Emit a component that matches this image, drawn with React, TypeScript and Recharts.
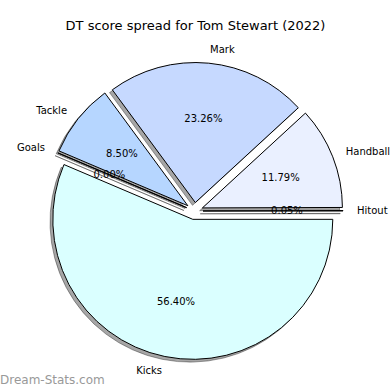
import React from "react";
import { PieChart, Pie, Cell } from "recharts";

// slices in drawing order (counter-clockwise from 3 o'clock)
const categories = ["Hitout", "Handball", "Mark", "Tackle", "Goals", "Kicks"];
const shares = [0.05, 11.79, 23.26, 8.5, 0.004, 56.4];
const colors = ["#F0F4FF", "#EAF0FF", "#C6D9FF", "#B6D6FF", "#B0E0FF", "#DAFFFF"];

const data = categories.map((name, i) => ({ name, value: shares[i] }));
const total = shares.reduce((a, b) => a + b, 0);

const CX = 194.5;
const CY = 211;
const R = 140;
const EXPLODE = 8.5;
const RADIAN = Math.PI / 180;
const FONT = "DejaVu Sans, sans-serif";

// mid angle of each slice, used only to push slices outward
const midAngles: number[] = [];
{
  let acc = 0;
  shares.forEach((v) => {
    const span = (v / total) * 360;
    midAngles.push(acc + span / 2);
    acc += span;
  });
}

const offset = (i: number) => ({
  dx: EXPLODE * Math.cos(midAngles[i] * RADIAN),
  dy: -EXPLODE * Math.sin(midAngles[i] * RADIAN),
});

const renderLabel = (props: any) => {
  const { midAngle, index } = props;
  const cos = Math.cos(midAngle * RADIAN);
  const sin = Math.sin(midAngle * RADIAN);
  const ox = CX + EXPLODE * cos;
  const oy = CY - EXPLODE * sin;
  const lx = ox + 1.1 * R * cos;
  const ly = oy - 1.1 * R * sin;
  const px = ox + 0.6 * R * cos;
  const py = oy - 0.6 * R * sin;
  const pct = ((shares[index] / total) * 100).toFixed(2) + "%";
  return (
    <g key={"lbl" + index}>
      <text
        x={lx}
        y={ly}
        textAnchor={cos >= 0 ? "start" : "end"}
        dominantBaseline="central"
        fontFamily={FONT}
        fontSize={10}
        fill="#000"
      >
        {categories[index]}
      </text>
      <text
        x={px}
        y={py}
        textAnchor="middle"
        dominantBaseline="central"
        fontFamily={FONT}
        fontSize={10}
        fill="#000"
      >
        {pct}
      </text>
    </g>
  );
};

export default function App() {
  return (
    <div style={{ position: "absolute", left: 0, top: 0, width: 390, height: 390, background: "#fff", overflow: "hidden" }}>
      <PieChart width={390} height={390} margin={{ top: 0, right: 0, bottom: 0, left: 0 }}>
        <text x={195.5} y={25} textAnchor="middle" dominantBaseline="central" fontFamily={FONT} fontSize={13} fill="#000">
          DT score spread for Tom Stewart (2022)
        </text>
        {/* shadows */}
        {data.map((_, i) => {
          const { dx, dy } = offset(i);
          return (
            <Pie
              key={"sh" + i}
              data={data}
              dataKey="value"
              nameKey="name"
              cx={CX + dx - 2.8}
              cy={CY + dy + 2.8}
              outerRadius={R}
              startAngle={0}
              endAngle={360}
              isAnimationActive={false}
              labelLine={false}
            >
              {data.map((d, j) => (
                <Cell
                  key={d.name}
                  fill={j === i ? "#000" : "none"}
                  fillOpacity={0.35}
                  stroke={j === i ? "#000" : "none"}
                  strokeOpacity={0.35}
                  strokeWidth={1}
                />
              ))}
            </Pie>
          );
        })}
        {/* exploded wedges */}
        {data.map((_, i) => {
          const { dx, dy } = offset(i);
          return (
            <Pie
              key={"w" + i}
              data={data}
              dataKey="value"
              nameKey="name"
              cx={CX + dx}
              cy={CY + dy}
              outerRadius={R}
              startAngle={0}
              endAngle={360}
              isAnimationActive={false}
              labelLine={false}
            >
              {data.map((d, j) => (
                <Cell
                  key={d.name}
                  fill={j === i ? colors[i] : "none"}
                  stroke={j === i ? "#000" : "none"}
                  strokeWidth={1}
                />
              ))}
            </Pie>
          );
        })}
        {/* labels */}
        <Pie
          data={data}
          dataKey="value"
          nameKey="name"
          cx={CX}
          cy={CY}
          outerRadius={R}
          startAngle={0}
          endAngle={360}
          isAnimationActive={false}
          fill="none"
          stroke="none"
          labelLine={false}
          label={renderLabel}
        />
        <text x={0} y={380} dominantBaseline="central" fontFamily={FONT} fontSize={12} fill="#999">
          Dream-Stats.com
        </text>
      </PieChart>
    </div>
  );
}
